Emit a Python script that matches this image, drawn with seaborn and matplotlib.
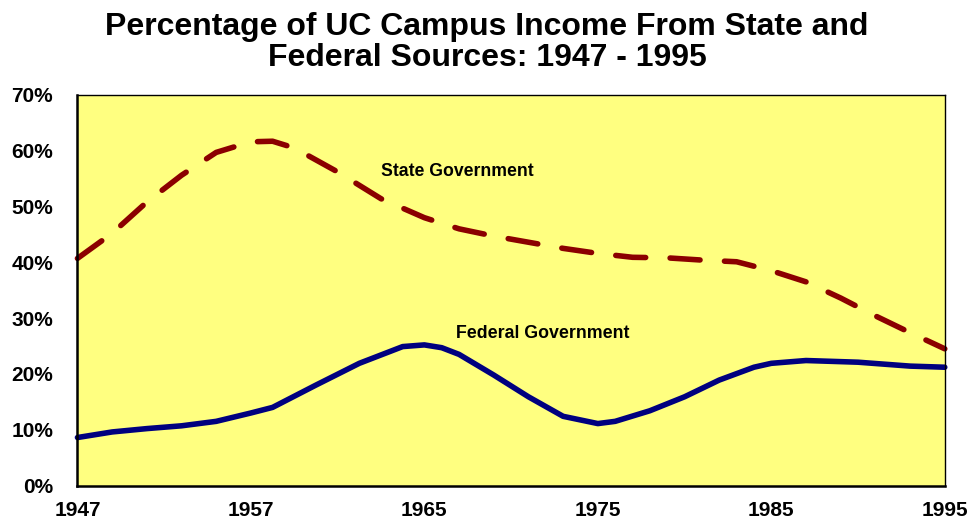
import numpy as np
import pandas as pd
import matplotlib
matplotlib.use("Agg")
import matplotlib.pyplot as plt
import seaborn as sns

# ---- data (percent of campus income) ----
state_years = [1947, 1949, 1951, 1953, 1955, 1957, 1958, 1959, 1961, 1963, 1965,
               1967, 1969, 1971, 1973, 1975, 1977, 1979, 1981, 1983, 1985, 1987,
               1989, 1991, 1993, 1995]
state_values = [40.7, 45.2, 50.8, 55.6, 59.7, 61.6, 61.7, 60.5, 56.2, 51.4, 48.0,
                46.0, 44.7, 43.6, 42.5, 41.6, 40.9, 40.8, 40.4, 40.1, 38.5, 36.5,
                33.6, 30.4, 27.4, 24.5]

federal_years = [1947, 1949, 1951, 1953, 1955, 1957, 1958, 1960, 1962, 1964, 1965,
                 1966, 1967, 1969, 1971, 1973, 1975, 1976, 1978, 1980, 1982, 1984,
                 1985, 1987, 1990, 1993, 1995]
federal_values = [8.6, 9.6, 10.2, 10.7, 11.5, 13.0, 14.0, 18.0, 21.9, 24.9, 25.2,
                  24.7, 23.5, 19.8, 15.9, 12.4, 11.1, 11.5, 13.4, 15.9, 18.9, 21.2,
                  21.9, 22.4, 22.1, 21.4, 21.2]

tick_years = [1947, 1957, 1965, 1975, 1985, 1995]
tick_labels = ["1947", "1957", "1965", "1975", "1985", "1995"]
y_ticks = [0, 10, 20, 30, 40, 50, 60, 70]

title = "Percentage of UC Campus Income From State and\nFederal Sources: 1947 - 1995"

state_df = pd.DataFrame({"year": state_years, "pct": state_values})
federal_df = pd.DataFrame({"year": federal_years, "pct": federal_values})

# ---- style ----
sns.set_style("white")
plt.rcParams["font.family"] = ["Liberation Sans", "DejaVu Sans"]
plt.rcParams["font.weight"] = "bold"
plt.rcParams["text.color"] = "black"
plt.rcParams["xtick.color"] = "black"
plt.rcParams["ytick.color"] = "black"

fig = plt.figure(figsize=(9.68, 5.25), dpi=100)
ax = fig.add_axes([0.080, 0.0752, 0.896, 0.744])
ax.set_facecolor("#FFFF80")

# category-like axis: tick years are evenly spaced
positions = np.arange(len(tick_years), dtype=float)
def fwd(x):
    return np.interp(x, tick_years, positions)
def inv(p):
    return np.interp(p, positions, tick_years)
ax.set_xscale("function", functions=(fwd, inv))

sns.lineplot(data=state_df, x="year", y="pct", ax=ax, color="#8B0000",
             linewidth=4.0, linestyle=(0, (5.4, 4.4)), dash_capstyle="round",
             solid_capstyle="round", sort=False, legend=False)
sns.lineplot(data=federal_df, x="year", y="pct", ax=ax, color="#00007F",
             linewidth=4.0, solid_capstyle="round", sort=False, legend=False)
for ln in ax.lines:
    ln.set_clip_on(False)
    ln.set_solid_joinstyle("round")
    ln.set_dash_joinstyle("round")

ax.set_xlim(1947, 1995)
ax.set_ylim(0, 70)
ax.set_xticks(tick_years)
ax.set_xticklabels(tick_labels)
ax.set_yticks(y_ticks)
ax.set_yticklabels([f"{v}%" for v in y_ticks])
ax.set_xlabel("")
ax.set_ylabel("")

ax.tick_params(axis="both", direction="inout", length=9, width=1.5,
               labelsize=15, colors="black", labelcolor="black")
ax.tick_params(axis="x", pad=7)
ax.tick_params(axis="y", pad=13)
for lab in ax.get_xticklabels() + ax.get_yticklabels():
    lab.set_fontweight("bold")
    lab.set_color("black")

for side in ["left", "bottom"]:
    ax.spines[side].set_linewidth(1.8)
    ax.spines[side].set_color("black")
for side in ["top", "right"]:
    ax.spines[side].set_linewidth(1.0)
    ax.spines[side].set_color("black")
    ax.spines[side].set_visible(True)

ax.text(1963.0, 56.2, "State Government", fontsize=12.7, fontweight="bold",
        ha="left", va="center", color="black")
ax.text(1966.8, 27.2, "Federal Government", fontsize=12.8, fontweight="bold",
        ha="left", va="center", color="black")

fig.text(0.503, 0.978, title, ha="center", va="top", fontsize=23,
         fontweight="bold", linespacing=1.08, color="black")

fig.savefig("out.png", dpi=100, facecolor="white")
